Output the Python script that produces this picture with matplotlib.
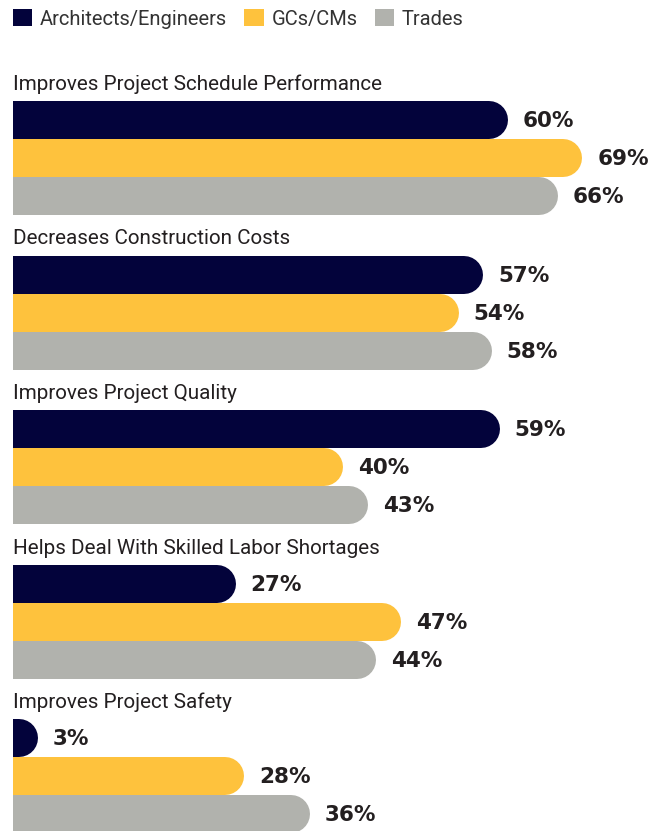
import matplotlib.pyplot as plt
from matplotlib.patches import Patch

groups = ['Improves Project Schedule Performance',
          'Decreases Construction Costs',
          'Improves Project Quality',
          'Helps Deal With Skilled Labor Shortages',
          'Improves Project Safety']
series = ['Architects/Engineers', 'GCs/CMs', 'Trades']
arch_eng = [60, 57, 59, 27, 3]
gc_cm = [69, 54, 40, 47, 28]
trades = [66, 58, 43, 44, 36]
colors = ['#03033b', '#fec23d', '#b1b2ad']

W, H, DPI = 656, 831, 100
left_px = 13
px_per_pct = 8.25
bar_px = 38
cap = bar_px / 2 / px_per_pct        # radius of the round end, in %
first = (101 + bar_px / 2) / bar_px   # centre of first bar, in bar units
step = 154.5 / bar_px                 # distance between groups

narrow = ['Roboto', 'DejaVu Sans']
dark = '#231f20'

fig = plt.figure(figsize=(W / DPI, H / DPI), dpi=DPI)
ax = fig.add_axes([left_px / W, 0, 1 - left_px / W, 1])
ax.set_xlim(0, (W - left_px) / px_per_pct)
ax.set_ylim(H / bar_px, 0)
ax.axis('off')

lw = bar_px * 72 / DPI
for g, name in enumerate(groups):
    y0 = first + g * step
    ax.text(0, y0 - 0.5 - 11 / bar_px, name, family=narrow, fontsize=14.9,
            color=dark, va='baseline', ha='left')
    for s, vals in enumerate([arch_eng, gc_cm, trades]):
        v = vals[g]
        y = y0 + s
        ax.plot([-cap, max(v - cap, 0)], [y, y], color=colors[s], lw=lw,
                solid_capstyle='round')
        ax.text(max(v, cap) + 15 / px_per_pct, y + 0.03, f'{v}%',
                fontsize=15.5, fontweight='bold', color=dark,
                va='center', ha='left')

handles = [Patch(facecolor=c, edgecolor='none') for c in colors]
leg = ax.legend(handles, series, loc='upper left',
                bbox_to_anchor=(0, 1 - 9 / H),
                ncol=3, frameon=False, borderaxespad=0, borderpad=0,
                handlelength=0.95, handleheight=0.95, handletextpad=0.4,
                columnspacing=0.85,
                prop={'family': narrow, 'size': 14.5})
for t in leg.get_texts():
    t.set_color('#333333')

fig.savefig('out.png', dpi=DPI)
